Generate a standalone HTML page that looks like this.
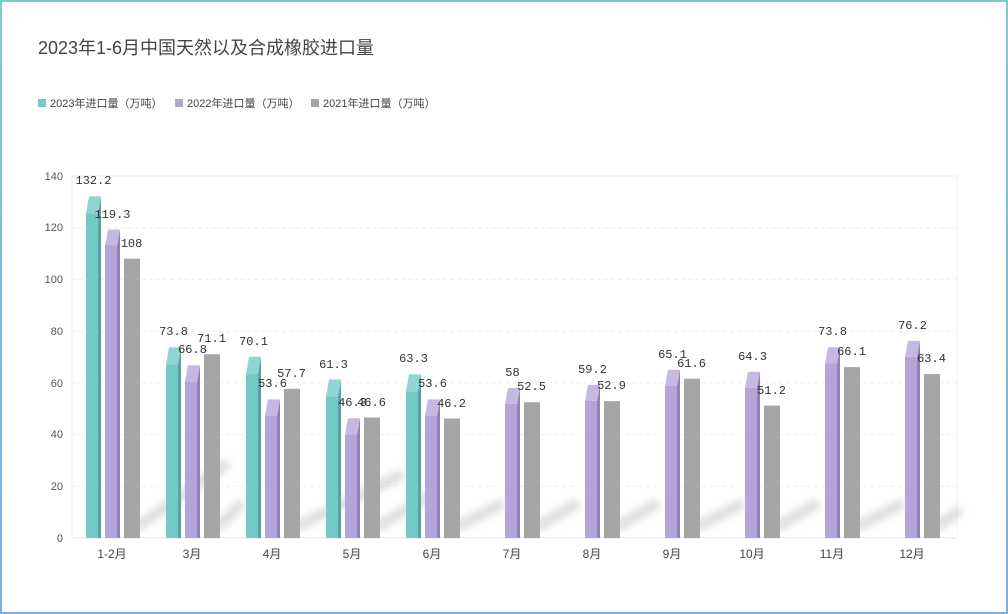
<!DOCTYPE html>
<html><head><meta charset="utf-8"><style>
body{margin:0;background:#fff;}
svg{display:block;font-family:"Liberation Sans","Noto Sans CJK SC",sans-serif;}
</style></head><body>
<svg width="1008" height="614" viewBox="0 0 1008 614" xmlns="http://www.w3.org/2000/svg">
<defs>
<linearGradient id="bd" x1="0" y1="0" x2="0" y2="1"><stop offset="0" stop-color="#7ccfc6"/><stop offset="1" stop-color="#7aaee2"/></linearGradient>
<filter id="bl" x="-50%" y="-50%" width="200%" height="200%"><feGaussianBlur stdDeviation="4"/></filter>
</defs>
<rect x="1" y="1" width="1006" height="612" fill="#fff" stroke="url(#bd)" stroke-width="2"/>
<text x="38" y="54" font-size="18" fill="#444">2023年1-6月中国天然以及合成橡胶进口量</text>
<g font-size="11" fill="#444">
<rect x="38" y="99" width="8" height="8" fill="#72c9c6"/><text x="50" y="107">2023年进口量（万吨）</text>
<rect x="175" y="99" width="8" height="8" fill="#b3a4da"/><text x="187" y="107">2022年进口量（万吨）</text>
<rect x="311" y="99" width="8" height="8" fill="#a5a5a5"/><text x="323" y="107">2021年进口量（万吨）</text>
</g>
<g stroke="#eee" stroke-dasharray="4,3">
<line x1="72" x2="957" y1="176" y2="176" stroke-dasharray="none"/>
<line x1="72" x2="957" y1="227.7" y2="227.7"/><line x1="72" x2="957" y1="279.4" y2="279.4"/>
<line x1="72" x2="957" y1="331.1" y2="331.1"/><line x1="72" x2="957" y1="382.8" y2="382.8"/>
<line x1="72" x2="957" y1="434.6" y2="434.6"/><line x1="72" x2="957" y1="486.3" y2="486.3"/>
</g>
<line x1="72" x2="72" y1="176" y2="538" stroke="#eee"/>
<line x1="957" x2="957" y1="176" y2="538" stroke="#f3f3f3"/>
<line x1="72" x2="957" y1="538" y2="538" stroke="#e6e6e6"/>
<g font-size="11" fill="#555" text-anchor="end">
<text x="63" y="542">0</text><text x="63" y="490">20</text><text x="63" y="438">40</text><text x="63" y="387">60</text><text x="63" y="335">80</text><text x="63" y="283">100</text><text x="63" y="231">120</text><text x="63" y="180">140</text>
</g>
<g stroke="#999" stroke-width="10" opacity="0.35" filter="url(#bl)" stroke-linecap="round">
<line x1="140" y1="525" x2="225" y2="465"/><line x1="220" y1="525" x2="240" y2="505"/>
<line x1="300" y1="525" x2="400" y2="475"/><line x1="380" y1="525" x2="430" y2="495"/>
<line x1="460" y1="525" x2="500" y2="505"/><line x1="540" y1="525" x2="575" y2="505"/>
<line x1="620" y1="525" x2="655" y2="505"/><line x1="700" y1="525" x2="740" y2="505"/>
<line x1="780" y1="525" x2="815" y2="505"/><line x1="860" y1="525" x2="900" y2="505"/>
<line x1="940" y1="525" x2="957" y2="512"/>
</g>
<!-- teal -->
<g>
<g transform="translate(86,196.2)"><rect y="17" width="12" height="324.8" fill="#72c9c6"/><polygon points="12,17 15,0 15,341.8 12,341.8" fill="#5aa39f"/><polygon points="0,17 12,17 15,0 3,0" fill="#8fd6d2"/></g>
<g transform="translate(166,347.2)"><rect y="17" width="12" height="173.8" fill="#72c9c6"/><polygon points="12,17 15,0 15,190.8 12,190.8" fill="#5aa39f"/><polygon points="0,17 12,17 15,0 3,0" fill="#8fd6d2"/></g>
<g transform="translate(246,356.7)"><rect y="17" width="12" height="164.3" fill="#72c9c6"/><polygon points="12,17 15,0 15,181.3 12,181.3" fill="#5aa39f"/><polygon points="0,17 12,17 15,0 3,0" fill="#8fd6d2"/></g>
<g transform="translate(326,379.5)"><rect y="17" width="12" height="141.5" fill="#72c9c6"/><polygon points="12,17 15,0 15,158.5 12,158.5" fill="#5aa39f"/><polygon points="0,17 12,17 15,0 3,0" fill="#8fd6d2"/></g>
<g transform="translate(406,374.3)"><rect y="17" width="12" height="146.7" fill="#72c9c6"/><polygon points="12,17 15,0 15,163.7 12,163.7" fill="#5aa39f"/><polygon points="0,17 12,17 15,0 3,0" fill="#8fd6d2"/></g>
</g>
<!-- purple -->
<g>
<g transform="translate(105,229.5)"><rect y="16" width="12" height="292.5" fill="#b3a4da"/><polygon points="12,16 15,0 15,308.5 12,308.5" fill="#8f82b5"/><polygon points="0,16 12,16 15,0 3,0" fill="#c5b9e4"/></g>
<g transform="translate(185,365.3)"><rect y="16" width="12" height="156.7" fill="#b3a4da"/><polygon points="12,16 15,0 15,172.7 12,172.7" fill="#8f82b5"/><polygon points="0,16 12,16 15,0 3,0" fill="#c5b9e4"/></g>
<g transform="translate(265,399.4)"><rect y="16" width="12" height="122.6" fill="#b3a4da"/><polygon points="12,16 15,0 15,138.6 12,138.6" fill="#8f82b5"/><polygon points="0,16 12,16 15,0 3,0" fill="#c5b9e4"/></g>
<g transform="translate(345,418.3)"><rect y="16" width="12" height="103.7" fill="#b3a4da"/><polygon points="12,16 15,0 15,119.7 12,119.7" fill="#8f82b5"/><polygon points="0,16 12,16 15,0 3,0" fill="#c5b9e4"/></g>
<g transform="translate(425,399.4)"><rect y="16" width="12" height="122.6" fill="#b3a4da"/><polygon points="12,16 15,0 15,138.6 12,138.6" fill="#8f82b5"/><polygon points="0,16 12,16 15,0 3,0" fill="#c5b9e4"/></g>
<g transform="translate(505,388)"><rect y="16" width="12" height="134" fill="#b3a4da"/><polygon points="12,16 15,0 15,150 12,150" fill="#8f82b5"/><polygon points="0,16 12,16 15,0 3,0" fill="#c5b9e4"/></g>
<g transform="translate(585,384.9)"><rect y="16" width="12" height="137.1" fill="#b3a4da"/><polygon points="12,16 15,0 15,153.1 12,153.1" fill="#8f82b5"/><polygon points="0,16 12,16 15,0 3,0" fill="#c5b9e4"/></g>
<g transform="translate(665,369.7)"><rect y="16" width="12" height="152.3" fill="#b3a4da"/><polygon points="12,16 15,0 15,168.3 12,168.3" fill="#8f82b5"/><polygon points="0,16 12,16 15,0 3,0" fill="#c5b9e4"/></g>
<g transform="translate(745,371.7)"><rect y="16" width="12" height="150.3" fill="#b3a4da"/><polygon points="12,16 15,0 15,166.3 12,166.3" fill="#8f82b5"/><polygon points="0,16 12,16 15,0 3,0" fill="#c5b9e4"/></g>
<g transform="translate(825,347.2)"><rect y="16" width="12" height="174.8" fill="#b3a4da"/><polygon points="12,16 15,0 15,190.8 12,190.8" fill="#8f82b5"/><polygon points="0,16 12,16 15,0 3,0" fill="#c5b9e4"/></g>
<g transform="translate(905,340.9)"><rect y="16" width="12" height="181.1" fill="#b3a4da"/><polygon points="12,16 15,0 15,197.1 12,197.1" fill="#8f82b5"/><polygon points="0,16 12,16 15,0 3,0" fill="#c5b9e4"/></g>
</g>
<!-- gray -->
<g fill="#a5a5a5">
<rect x="124" y="258.7" width="16" height="279.3"/><rect x="204" y="354.2" width="16" height="183.8"/>
<rect x="284" y="388.8" width="16" height="149.2"/><rect x="364" y="417.5" width="16" height="120.5"/>
<rect x="444" y="418.5" width="16" height="119.5"/><rect x="524" y="402.2" width="16" height="135.8"/>
<rect x="604" y="401.2" width="16" height="136.8"/><rect x="684" y="378.7" width="16" height="159.3"/>
<rect x="764" y="405.6" width="16" height="132.4"/><rect x="844" y="367.1" width="16" height="170.9"/>
<rect x="924" y="374.1" width="16" height="163.9"/>
</g>
<!-- labels -->
<g font-size="12" fill="#333" text-anchor="middle" font-family="Liberation Mono, monospace">
<text x="93.5" y="184">132.2</text><text x="173.5" y="335">73.8</text><text x="253.5" y="345">70.1</text><text x="333.5" y="368">61.3</text><text x="413.5" y="362">63.3</text>
<text x="112.5" y="218">119.3</text><text x="192.5" y="353">66.8</text><text x="272.5" y="387">53.6</text><text x="352.5" y="406">46.3</text><text x="432.5" y="387">53.6</text><text x="512.5" y="376">58</text><text x="592.5" y="373">59.2</text><text x="672.5" y="358">65.1</text><text x="752.5" y="360">64.3</text><text x="832.5" y="335">73.8</text><text x="912.5" y="329">76.2</text>
<text x="131.5" y="247">108</text><text x="211.5" y="342">71.1</text><text x="291.5" y="377">57.7</text><text x="371.5" y="406">46.6</text><text x="451.5" y="407">46.2</text><text x="531.5" y="390">52.5</text><text x="611.5" y="389">52.9</text><text x="691.5" y="367">61.6</text><text x="771.5" y="394">51.2</text><text x="851.5" y="355">66.1</text><text x="931.5" y="362">63.4</text>
</g>
<g font-size="12" fill="#444" text-anchor="middle">
<text x="112" y="558">1-2月</text><text x="192" y="558">3月</text><text x="272" y="558">4月</text><text x="352" y="558">5月</text><text x="432" y="558">6月</text><text x="512" y="558">7月</text><text x="592" y="558">8月</text><text x="672" y="558">9月</text><text x="752" y="558">10月</text><text x="832" y="558">11月</text><text x="912" y="558">12月</text>
</g>
</svg>
</body></html>
